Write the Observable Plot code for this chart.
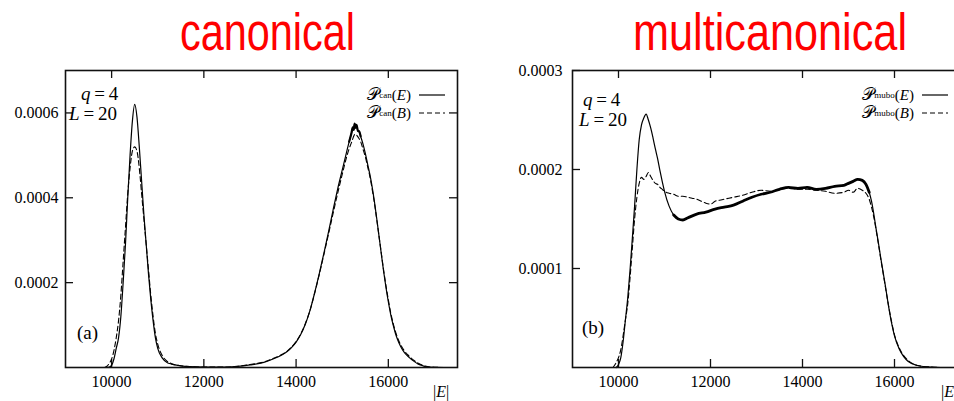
<!DOCTYPE html>
<html><head><meta charset="utf-8">
<script src="https://cdn.jsdelivr.net/npm/d3@7"></script>
<script src="https://cdn.jsdelivr.net/npm/@observablehq/plot@0.6"></script>
<style>
html,body{margin:0;padding:0;background:#fff;}
#root{position:relative;width:954px;height:401px;overflow:hidden;background:#fff;}
.panel{position:absolute;top:0;width:480px;height:401px;}
#root .panel svg{max-width:none !important;}
.ttl{position:absolute;top:0;overflow:visible;}
.ann{position:absolute;font-family:"Liberation Serif","DejaVu Serif","Times New Roman",serif;white-space:nowrap;line-height:1;color:#000;}
.big{font-size:19px;line-height:19px;}
.leg{position:absolute;display:flex;align-items:center;height:16px;font-family:"Liberation Serif","DejaVu Serif",serif;font-size:15px;white-space:nowrap;color:#000;}
.leg .P{font-size:17px;}
.leg sub{font-size:9px;vertical-align:-2px;}
.leg svg{margin-left:8px;}
</style>
</head><body>
<div id="root">
  <svg class="ttl" style="left:160px" width="215" height="66">
    <text x="107.5" y="50" text-anchor="middle" font-family="Liberation Sans Narrow, Liberation Sans, Arial, sans-serif" font-size="51" fill="#ff0000" textLength="175" lengthAdjust="spacingAndGlyphs">canonical</text>
  </svg>
  <svg class="ttl" style="left:600px" width="340" height="66">
    <text x="170" y="50" text-anchor="middle" font-family="Liberation Sans Narrow, Liberation Sans, Arial, sans-serif" font-size="51" fill="#ff0000" textLength="274" lengthAdjust="spacingAndGlyphs">multicanonical</text>
  </svg>
  <div class="panel" id="pa" style="left:0px"></div>
  <div class="panel" id="pb" style="left:507px"></div>

  <div class="ann big" style="left:81px;top:84px"><i>q</i>&#8201;=&#8201;4</div>
  <div class="ann big" style="left:69px;top:104px"><i>L</i>&#8201;=&#8201;20</div>
  <div class="ann big" style="left:77px;top:323px">(a)</div>
  <div class="ann" style="left:433px;top:384px;font-size:16px">|<i>E</i>|</div>

  <div class="ann big" style="left:583px;top:90px"><i>q</i>&#8201;=&#8201;4</div>
  <div class="ann big" style="left:579px;top:110px"><i>L</i>&#8201;=&#8201;20</div>
  <div class="ann big" style="left:582px;top:318px">(b)</div>
  <div class="ann" style="left:941px;top:384px;font-size:16px">|<i>E</i>|</div>

  <div class="leg" style="right:509px;top:87px"><span class="P">𝒫</span><sub>can</sub>(<i>E</i>)<svg width="26" height="4"><line x1="0" x2="26" y1="2" y2="2" stroke="#000" stroke-width="1.2"/></svg></div>
  <div class="leg" style="right:509px;top:105px"><span class="P">𝒫</span><sub>can</sub>(<i>B</i>)<svg width="26" height="4"><line x1="0" x2="26" y1="2" y2="2" stroke="#000" stroke-width="1.2" stroke-dasharray="5,3"/></svg></div>
  <div class="leg" style="right:6px;top:87px"><span class="P">𝒫</span><sub>mubo</sub>(<i>E</i>)<svg width="26" height="4"><line x1="0" x2="26" y1="2" y2="2" stroke="#000" stroke-width="1.2"/></svg></div>
  <div class="leg" style="right:6px;top:105px"><span class="P">𝒫</span><sub>mubo</sub>(<i>B</i>)<svg width="26" height="4"><line x1="0" x2="26" y1="2" y2="2" stroke="#000" stroke-width="1.2" stroke-dasharray="5,3"/></svg></div>
</div>
<script>
const xDomain = [9000, 17500];
const xTicks = [10000, 12000, 14000, 16000];
const yTicksCan = [0.0002, 0.0004, 0.0006];
const yTicksMubo = [0.0001, 0.0002, 0.0003];

const canE = [
 [9900,0],[9950,0.000001],[10000,0.000005],[10050,0.00002],[10100,0.000045],[10150,0.00007],
 [10200,0.00012],[10250,0.0002],[10300,0.00029],[10350,0.0004],[10400,0.0005],[10450,0.00058],
 [10500,0.00062],[10550,0.00059],[10600,0.00052],[10650,0.00044],[10700,0.00036],[10750,0.00029],
 [10800,0.00022],[10850,0.00016],[10900,0.00011],[10950,0.00007],[11000,0.000045],[11100,0.000022],
 [11200,0.000012],[11300,0.000008],[11500,0.000004],[11700,0.000002],[12000,0.000001],[12500,0.000001],
 [13000,0.000006],[13300,0.000012],[13500,0.00002],[13700,0.00003],[13800,0.000037],[13900,0.000047],
 [14000,0.00006],[14100,0.000078],[14200,0.000102],[14300,0.000134],[14400,0.000175],[14500,0.00022],
 [14600,0.000268],[14700,0.000318],[14800,0.00037],[14900,0.00042],[15000,0.000465],[15100,0.00051],
 [15150,0.000532],[15200,0.000552],[15230,0.000566],[15250,0.00056],[15270,0.000575],[15290,0.000565],
 [15310,0.000572],[15340,0.000558],[15370,0.000556],[15400,0.000545],[15450,0.000527],[15500,0.000505],
 [15550,0.00048],[15600,0.000455],[15650,0.000425],[15700,0.00039],[15750,0.00035],[15800,0.000308],
 [15850,0.000266],[15900,0.000225],[15950,0.000188],[16000,0.000155],[16050,0.000126],[16100,0.000102],
 [16150,0.000082],[16200,0.000066],[16270,0.000049],[16350,0.000035],[16450,0.000024],[16550,0.000015],
 [16650,0.000008],[16750,0.000004],[16850,0.0000015],[17000,0.0000005],[17200,0]
];
const canB = [
 [9850,0],[9900,0.000003],[9950,0.00001],[10000,0.00002],[10050,0.00004],[10100,0.00007],
 [10150,0.00011],[10200,0.00017],[10250,0.00025],[10300,0.00033],[10350,0.00041],[10400,0.00047],
 [10450,0.00051],[10500,0.00052],[10550,0.00051],[10600,0.00047],[10650,0.00041],[10700,0.00035],
 [10750,0.00029],[10800,0.00023],[10850,0.00017],[10900,0.00012],[10950,0.00008],[11000,0.000055],
 [11100,0.000028],[11200,0.000015],[11300,0.000009],[11500,0.000004],[11700,0.000002],[12000,0.000001],
 [12500,0.000001],[13000,0.000007],[13300,0.000013],[13500,0.000021],[13700,0.000031],[13800,0.000038],
 [13900,0.000048],[14000,0.000061],[14100,0.000079],[14200,0.000103],[14300,0.000134],[14400,0.000174],
 [14500,0.000218],[14600,0.000265],[14700,0.000313],[14800,0.000362],[14900,0.00041],[15000,0.000455],
 [15100,0.000498],[15200,0.00053],[15280,0.00055],[15350,0.000542],[15400,0.000532],[15450,0.000515],
 [15500,0.000497],[15550,0.000474],[15600,0.00045],[15650,0.00042],[15700,0.000387],[15750,0.000348],
 [15800,0.000308],[15850,0.000268],[15900,0.000228],[15950,0.000192],[16000,0.00016],[16050,0.00013],
 [16100,0.000106],[16150,0.000086],[16200,0.00007],[16270,0.000053],[16350,0.000039],[16450,0.000027],
 [16550,0.000017],[16650,0.00001],[16750,0.000005],[16850,0.000002],[17000,0.0000007],[17200,0]
];
const mucaE = [
 [9950,0],[10000,0.000003],[10050,0.00001],[10100,0.000026],[10150,0.000048],[10200,0.00007],
 [10250,0.000098],[10300,0.00013],[10350,0.000163],[10400,0.0002],[10450,0.00023],[10500,0.000245],
 [10550,0.000252],[10600,0.000256],[10650,0.00025],[10700,0.000242],[10750,0.000232],[10800,0.000221],
 [10850,0.000211],[10900,0.000199],[10950,0.000188],[11000,0.000178],[11100,0.000163],[11200,0.000154],
 [11300,0.00015],[11400,0.000149],[11500,0.000151],[11700,0.000155],[11900,0.000157],[12100,0.00016],
 [12300,0.000162],[12500,0.000164],[12700,0.000168],[12900,0.000172],[13100,0.000175],[13300,0.000177],
 [13500,0.00018],[13700,0.000182],[13900,0.000181],[14100,0.000182],[14300,0.00018],[14500,0.000181],
 [14700,0.000183],[14900,0.000184],[15000,0.000186],[15100,0.000188],[15200,0.00019],[15300,0.000189],
 [15380,0.000185],[15450,0.000177],[15500,0.000168],[15550,0.000155],[15600,0.00014],[15650,0.000126],
 [15700,0.000111],[15750,0.000097],[15800,0.000083],[15850,0.000068],[15900,0.000054],[15950,0.000042],
 [16000,0.000032],[16100,0.000019],[16200,0.000011],[16300,0.000006],[16500,0.000002],[16800,0.0000003],
 [17000,0]
];
const mucaB = [
 [9880,0],[9950,0.000005],[10000,0.00001],[10050,0.000018],[10100,0.000032],[10150,0.000048],
 [10200,0.000064],[10250,0.00009],[10300,0.00012],[10350,0.00015],[10400,0.000172],[10450,0.000186],
 [10500,0.000192],[10550,0.00019],[10600,0.000193],[10650,0.000197],[10700,0.000193],[10750,0.000189],
 [10800,0.000186],[10850,0.000185],[10900,0.000182],[10950,0.00018],[11000,0.000178],[11100,0.000176],
 [11200,0.000175],[11300,0.000173],[11400,0.000173],[11500,0.000172],[11600,0.000171],[11700,0.00017],
 [11800,0.000168],[11900,0.000166],[12000,0.000165],[12100,0.000168],[12200,0.000169],[12300,0.00017],
 [12500,0.000172],[12700,0.000174],[12900,0.000177],[13100,0.000179],[13300,0.000178],[13500,0.00018],
 [13700,0.000181],[13900,0.00018],[14100,0.00018],[14300,0.000179],[14500,0.000178],[14700,0.000176],
 [14900,0.000177],[15000,0.000179],[15100,0.000177],[15200,0.000181],[15300,0.000179],[15380,0.000176],
 [15450,0.00017],[15500,0.000162],[15550,0.000152],[15600,0.000139],[15650,0.000125],[15700,0.00011],
 [15750,0.000096],[15800,0.000082],[15850,0.000068],[15900,0.000055],[15950,0.000043],[16000,0.000033],
 [16100,0.00002],[16200,0.000012],[16300,0.000007],[16500,0.000002],[16800,0.0000004],[17000,0]
];

const serif = "'Liberation Serif', 'DejaVu Serif', 'Times New Roman', serif";

function panel({ymax, yTicks, E, B, thick, marginRight, tickPad}) {
  const X = d => d[0], Y = d => d[1];
  const x0 = xDomain[0], x1 = xDomain[1];
  return Plot.plot({
    width: 480, height: 401,
    marginLeft: 65, marginRight, marginTop: 70, marginBottom: 34,
    x: {domain: xDomain},
    y: {domain: [0, ymax]},
    style: `background: transparent; font-family: ${serif}; font-size: 16px; color: #000; overflow: visible; max-width: none;`,
    marks: [
      Plot.axisY(yTicks, {tickSize: 0, tickPadding: tickPad, tickFormat: d => d.toFixed(4), label: null, fontSize: 16, fontFamily: serif, fill: "#000"}),
      Plot.axisX(xTicks, {tickSize: 0, tickPadding: 8, tickFormat: d => String(d), label: null, fontSize: 16, fontFamily: serif, fill: "#000"}),
      Plot.ruleX(xTicks, {x: d => d, y1: () => 0, y2: () => 0, insetTop: -8, stroke: "#111", strokeWidth: 1.3}),
      Plot.ruleX(xTicks, {x: d => d, y1: () => ymax, y2: () => ymax, insetBottom: -8, stroke: "#111", strokeWidth: 1.3}),
      Plot.ruleY(yTicks, {y: d => d, x1: () => x0, x2: () => x0, insetRight: -8, stroke: "#111", strokeWidth: 1.3}),
      Plot.ruleY(yTicks, {y: d => d, x1: () => x1, x2: () => x1, insetLeft: -8, stroke: "#111", strokeWidth: 1.3}),
      Plot.line(B, {x: X, y: Y, stroke: "#000", strokeWidth: 1.1, strokeDasharray: "5,3", curve: "monotone-x"}),
      Plot.line(E, {x: X, y: Y, stroke: "#000", strokeWidth: 1.2, curve: "monotone-x"}),
      Plot.line(E.filter(d => d[0] >= thick[0] && d[0] <= thick[1]), {x: X, y: Y, stroke: "#000", strokeWidth: thick[2], curve: "monotone-x"}),
      Plot.frame({stroke: "#111", strokeWidth: 1.6})
    ]
  });
}

document.getElementById("pa").append(panel({ymax: 0.0007, yTicks: yTicksCan, E: canE, B: canB, thick: [15150, 15400, 2.2], marginRight: 23, tickPad: 7}));
document.getElementById("pb").append(panel({ymax: 0.0003, yTicks: yTicksMubo, E: mucaE, B: mucaB, thick: [11150, 15450, 2.8], marginRight: 24, tickPad: 10}));
</script>
</body></html>
